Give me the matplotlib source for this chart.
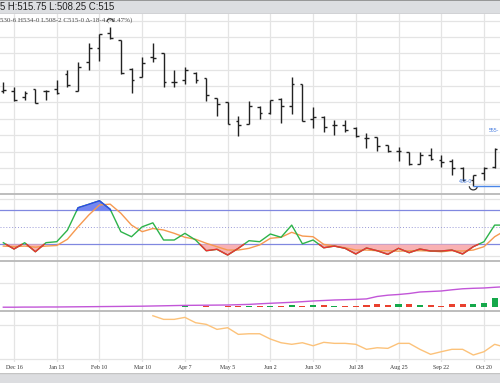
import numpy as np
import pandas as pd
import matplotlib
matplotlib.use("Agg")
import matplotlib.pyplot as plt
import matplotlib.dates as mdates
from matplotlib.patches import Arc

# weekly bars, Dec 9 2024 .. Nov 3 2025 (last one sits just off the right edge)
week_dates = pd.date_range("2024-12-09", periods=48, freq="7D")

opens = [604.5, 603.75, 597.0, 606.0, 603.75, 606.5, 624.75, 604.5, 640.0, 656.5,
         674.5, 666.5, 631.0, 621.5, 645.5, 650.0, 615.5, 617.5, 626.5, 620.25,
         595.0, 591.0, 567.75, 563.75, 585.0, 577.5, 594.25, 585.75, 612.5, 569.5,
         572.0, 562.25, 562.5, 558.5, 547.0, 547.5, 538.0, 530.75, 529.75, 514.75,
         525.75, 519.75, 518.5, 509.5, 495.25, 503.5, 510.75, 530.75]
highs = [615.5, 608.5, 604.5, 606.5, 605.25, 618.0, 630.0, 639.0, 662.5, 673.75,
         682.75, 666.5, 632.25, 646.0, 662.5, 650.0, 629.75, 633.0, 627.5, 620.25,
         596.0, 591.0, 574.0, 591.75, 585.75, 593.0, 595.0, 621.5, 612.5, 584.0,
         573.5, 568.5, 568.5, 560.5, 553.0, 548.25, 538.0, 536.0, 529.75, 529.75,
         534.75, 525.75, 520.5, 510.75, 501.5, 510.75, 534.0, 534.0]
lows = [601.5, 591.5, 593.0, 589.0, 593.5, 600.5, 609.25, 603.75, 630.0, 641.0,
        667.5, 624.75, 601.25, 620.75, 639.0, 609.25, 609.25, 612.5, 613.5, 591.75,
        574.0, 563.75, 549.5, 563.75, 569.5, 576.0, 565.25, 576.0, 567.5, 559.25,
        554.25, 550.25, 554.25, 548.25, 534.0, 530.75, 529.75, 518.5, 513.5, 514.5,
        519.75, 511.5, 501.5, 494.5, 488.0, 495.25, 509.5, 508.25]
closes = [605.0, 593.5, 601.25, 589.75, 604.0, 601.0, 611.5, 633.0, 656.25, 673.5,
          668.75, 625.75, 617.5, 638.0, 645.0, 614.75, 615.25, 629.75, 617.5, 599.25,
          588.25, 563.75, 563.0, 585.75, 577.5, 593.0, 585.75, 612.5, 567.75, 572.0,
          560.5, 562.75, 556.5, 549.0, 546.25, 537.25, 530.75, 531.25, 514.75, 525.75,
          520.5, 517.5, 509.5, 495.25, 500.75, 509.5, 533.5, 515.0]

stoch_k = [22.9, 11.8, 22.9, 7.0, 23.0, 24.7, 45.0, 84.7, 90.7, 97.0,
           82.0, 42.4, 33.5, 51.0, 58.0, 27.7, 27.7, 39.5, 27.7, 8.8,
           11.3, 1.2, 13.0, 26.5, 24.7, 38.3, 32.5, 54.0, 21.0, 27.7,
           14.0, 17.0, 13.0, 3.0, 13.6, 8.8, 2.4, 13.0, 5.3, 11.8,
           8.3, 8.3, 10.0, 3.0, 15.9, 24.7, 54.0, 54.0]
stoch_d = [17.0, 16.0, 17.0, 15.0, 17.0, 18.0, 29.0, 51.0, 71.8, 89.5,
           91.0, 75.0, 54.0, 42.4, 48.0, 45.4, 39.5, 32.5, 29.0, 21.9,
           15.9, 10.0, 10.0, 13.0, 19.0, 30.7, 32.5, 41.3, 34.7, 33.5,
           20.0, 17.0, 14.0, 10.0, 10.0, 8.8, 8.8, 8.0, 8.8, 8.8,
           8.3, 7.0, 8.8, 8.3, 10.0, 15.9, 33.5, 44.5]

volume = [0, 0, 0, 0, 0, 0, 0, 0, 0, 0,
          0, 0, 0, 0, 3.3, 3.3, 3.3, 4.1, 3.3, 4.1,
          3.3, 4.1, 4.1, 5.0, 4.1, 7.0, 5.0, 8.3, 5.4, 11.2,
          8.3, 7.0, 5.4, 7.0, 9.5, 13.6, 9.5, 13.6, 12.4, 9.5,
          9.5, 7.0, 12.4, 12.4, 12.4, 16.5, 37.2, 20.0]
open_interest = [1.2, 1.2, 1.7, 1.7, 2.1, 2.1, 2.5, 2.9, 3.3, 3.7,
                 4.1, 4.5, 5.0, 5.4, 6.2, 7.0, 7.9, 8.7, 9.1, 9.5,
                 9.9, 10.3, 11.6, 12.8, 15.3, 17.4, 19.4, 21.5, 24.0, 26.9,
                 28.9, 31.0, 32.2, 33.5, 35.5, 45.5, 50.8, 53.7, 57.8, 64.0,
                 66.1, 68.2, 73.1, 77.3, 79.3, 80.6, 83.5, 86.0]
lower_line = [np.nan] * 14 + [63.6, 58.3, 58.3, 61.2, 53.4, 51.0, 43.7, 46.1, 36.4, 37.3,
                              37.3, 29.6, 24.2, 21.9, 24.2, 19.8, 24.8, 23.3, 23.3, 21.9,
                              14.6, 16.9, 16.0, 23.3, 23.3, 14.6, 7.3, 11.1, 14.6, 14.6,
                              6.3, 11.1, 21.9, 17.6]

tick_dates = ["2024-12-16", "2025-01-13", "2025-02-10", "2025-03-10", "2025-04-07",
              "2025-05-05", "2025-06-02", "2025-06-30", "2025-07-28", "2025-08-25",
              "2025-09-22", "2025-10-20"]
tick_labels = ["Dec 16", "Jan 13", "Feb 10", "Mar 10", "Apr 7", "May 5", "Jun 2",
               "Jun 30", "Jul 28", "Aug 25", "Sep 22", "Oct 20"]

header_text = "5 H:515.75 L:508.25 C:515"
info_text = "530-6 H534-0 L508-2 C515-0 \u0394-18-4 (-3.47%)"
low_label = "488-0"
target_label = "555-"

GRID = "#e4e4e4"
SEP = "#b8b8b8"

x = mdates.date2num(week_dates.to_pydatetime())
o, h, l, c = (np.array(a) for a in (opens, highs, lows, closes))
k = np.array(stoch_k)
d = np.array(stoch_d)
x_left = x[0] - 2.18
x_right = x[0] + 325.5
xt = mdates.date2num(pd.to_datetime(tick_dates).to_pydatetime())
H = 383.0


def pane(top_px, bot_px):
    ax = fig.add_axes([0, 1 - bot_px / H, 1, (bot_px - top_px) / H])
    ax.set_xlim(x_left, x_right)
    for s in ax.spines.values():
        s.set_visible(False)
    ax.set_xticks(xt)
    ax.tick_params(length=0, labelbottom=False, labelleft=False)
    ax.grid(True, axis="both", color=GRID, lw=0.9, zorder=0)
    ax.set_axisbelow(True)
    return ax


def split_crossings(xs, ys, levels):
    px, py = [xs[0]], [ys[0]]
    for i in range(1, len(xs)):
        x0, y0, x1, y1 = xs[i - 1], ys[i - 1], xs[i], ys[i]
        ts = []
        for lv in levels:
            if (y0 - lv) * (y1 - lv) < 0:
                ts.append((lv - y0) / (y1 - y0))
        for t in sorted(ts):
            px.append(x0 + t * (x1 - x0))
            py.append(y0 + t * (y1 - y0))
        px.append(x1)
        py.append(y1)
    return np.array(px), np.array(py)


fig = plt.figure(figsize=(5.0, 3.83), dpi=100)

# header band
hdr = fig.add_axes([0, 1 - 14 / H, 1, 14 / H])
hdr.set_facecolor("#dcdee1")
hdr.set_xticks([])
hdr.set_yticks([])
for s in hdr.spines.values():
    s.set_visible(False)
hdr.axhline(1, color="#8a8a8a", lw=1.2)
hdr.axhline(0, color="#a5a5a5", lw=1.0)
hdr.text(0.0, 0.5, header_text, transform=hdr.transAxes, ha="left", va="center",
         fontsize=6.9, family="Liberation Sans", color="#222222")

# price pane
axp = pane(14, 194)
axp.set_ylim(478.1, 698.2)
axp.set_yticks(np.arange(490, 691, 20))
tick = 1.8
axp.vlines(x, l, h, color="#222222", lw=1.0, zorder=3)
axp.hlines(o, x - tick, x, color="#222222", lw=1.0, zorder=3)
axp.hlines(c, x, x + tick, color="#222222", lw=1.0, zorder=3)
axp.add_patch(Arc((x[10], 688.6), 4.2, 7.5, theta1=0, theta2=180,
                  color="#333333", lw=0.9, zorder=4))
axp.add_patch(Arc((x[44], 487.6), 5.2, 9.0, theta1=180, theta2=360,
                  color="#333333", lw=0.9, zorder=4))
axp.hlines(lows[44], x[44], x_right, color="#4a86e8", lw=1.0, zorder=4)
axp.text(x[44] - 1.0, 493.0, low_label, ha="right", va="center", fontsize=3.7,
         family="Liberation Sans", color="#4a7fe0", zorder=5)
axp.text(x[46] - 3.8, 556.0, target_label, ha="left", va="center", fontsize=3.7,
         family="Liberation Sans", color="#4a7fe0", zorder=5)
axp.text(0.0, 1 - 6 / 180, info_text, transform=axp.transAxes, ha="left",
         va="center", fontsize=5.0, family="Liberation Serif", color="#4a4a4a",
         zorder=5)

# stochastic pane
axs = pane(194, 261)
axs.set_ylim(-9.35, 108.9)
axs.set_yticks([0, 100])
axs.spines["top"].set_visible(True)
axs.spines["top"].set_color(SEP)
axs.spines["top"].set_linewidth(1.3)
axs.axhline(80, color="#8088e0", lw=0.9, zorder=2)
axs.axhline(20, color="#8088e0", lw=0.9, zorder=2)
axs.axhline(50, color="#9a9ad8", lw=0.7, ls=(0, (1, 2)), zorder=2)
kx, ky = split_crossings(x, k, [20, 80])
axs.fill_between(kx, ky, 20, where=ky <= 20, color="#f9b1b3", lw=0, zorder=2)
axs.fill_between(kx, ky, 80, where=ky >= 80, color="#7486f3", lw=0, zorder=2)
axs.plot(x, d, color="#f69950", lw=1.0, zorder=3)
axs.plot(kx, ky, color="#2db34a", lw=1.0, zorder=4)
axs.plot(kx, np.where(ky <= 20, ky, np.nan), color="#f03030", lw=1.0, zorder=5)
axs.plot(kx, np.where(ky >= 80, ky, np.nan), color="#2f45f0", lw=1.0, zorder=5)

# volume / open interest pane
axv = pane(261, 311)
axv.set_ylim(-14.5, 192.1)
axv.set_yticks([100])
axv.spines["top"].set_visible(True)
axv.spines["top"].set_color(SEP)
axv.spines["top"].set_linewidth(1.3)
vol_colors = ["#15a84a" if cc >= oo else "#e9412f" for oo, cc in zip(opens, closes)]
axv.bar(x, volume, width=4.0, color=vol_colors, zorder=3)
axv.plot(x, open_interest, color="#c256d8", lw=1.0, zorder=4)

# lower line pane
axb = pane(311, 362)
axb.set_ylim(-3.9, 70.5)
axb.set_yticks([0, 50])
axb.spines["top"].set_visible(True)
axb.spines["top"].set_color(SEP)
axb.spines["top"].set_linewidth(1.3)
axb.plot(x, lower_line, color="#fcc27a", lw=1.0, zorder=3)
axb.tick_params(labelbottom=True, pad=2.0)
axb.set_xticklabels(tick_labels, fontsize=4.2, family="Liberation Serif",
                    color="#333333")

# bottom band
ftr = fig.add_axes([0, 0, 1, 10 / H])
ftr.set_facecolor("#dcdde0")
ftr.set_xticks([])
ftr.set_yticks([])
for s in ftr.spines.values():
    s.set_visible(False)
ftr.axhline(1, color="#c4c4c4", lw=1.0)

fig.savefig("out.png", dpi=100)
